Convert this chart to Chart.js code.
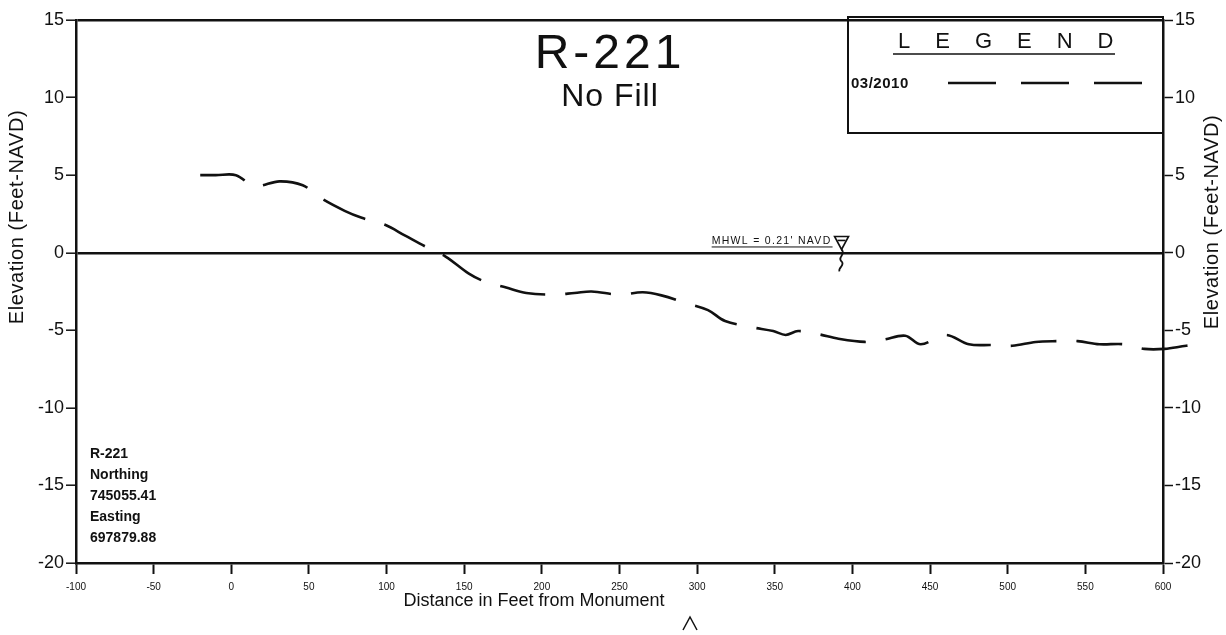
<!DOCTYPE html>
<html>
<head>
<meta charset="utf-8">
<title>R-221 beach profile</title>
<script src="https://cdn.jsdelivr.net/npm/chart.js@4.4.1/dist/chart.umd.min.js"></script>
<style>
  html, body { margin: 0; padding: 0; background: #fff; }
  #wrap { width: 1226px; height: 635px; position: relative; }
</style>
</head>
<body>
<div id="wrap"><canvas id="profileChart"></canvas></div>
<script>
// survey 03/2010, profile R-221 (distance from monument in ft, elevation ft NAVD)
const distance = [-20, -10, 3, 15, 31, 46, 58, 73, 84, 99, 112, 125, 138, 153, 163,
                  177, 190, 206, 221, 232, 250, 265, 277, 293, 307, 318, 335, 349, 357,
                  365, 378, 391, 408, 420, 434, 444, 460, 475, 490, 503, 518, 532, 545,
                  559, 575, 588, 601, 615, 627];
const elevation = [5.0, 5.0, 5.0, 4.3, 4.6, 4.35, 3.5, 2.7, 2.25, 1.8, 1.1, 0.4, -0.25, -1.35, -1.85,
                   -2.25, -2.6, -2.7, -2.6, -2.5, -2.7, -2.55, -2.75, -3.25, -3.7, -4.4, -4.8, -5.05, -5.3,
                   -5.05, -5.25, -5.55, -5.75, -5.6, -5.35, -5.9, -5.3, -5.9, -5.95, -6.0, -5.75, -5.7, -5.7,
                   -5.9, -5.9, -6.2, -6.2, -6.0, -5.9];

const xTicks = [-100, -50, 0, 50, 100, 150, 200, 250, 300, 350, 400, 450, 500, 550, 600];
const yTicks = [-20, -15, -10, -5, 0, 5, 10, 15];

const profileName = 'R-221';
const fillNote = 'No Fill';
const surveyDate = '03/2010';
const monumentInfo = ['R-221', 'Northing', '745055.41', 'Easting', '697879.88'];
const mhwl = 0.21;
const mhwlStation = 393;

const FONT = '"Liberation Sans", Arial, Helvetica, sans-serif';
const INK = '#111';

// notes, legend box and axis captions drawn on top of the plot
const profileNotes = {
  id: 'profileNotes',
  afterDraw(chart) {
    const { ctx } = chart;
    const x = chart.scales.x, y = chart.scales.y;
    ctx.save();
    ctx.fillStyle = INK;
    ctx.strokeStyle = INK;

    // big title
    ctx.textAlign = 'center';
    ctx.textBaseline = 'alphabetic';
    ctx.font = '48px ' + FONT;
    ctx.letterSpacing = '4px';
    ctx.fillText(profileName, 610, 68);
    ctx.font = '32px ' + FONT;
    ctx.letterSpacing = '1px';
    ctx.fillText(fillNote, 610, 106);
    ctx.letterSpacing = '0px';

    // legend box
    ctx.lineWidth = 2;
    ctx.strokeRect(848, 17, 315, 116);
    ctx.textAlign = 'left';
    ctx.font = '22px ' + FONT;
    ctx.letterSpacing = '25px';
    ctx.fillText('LEGEND', 898, 48);
    ctx.letterSpacing = '0px';
    ctx.lineWidth = 1.5;
    ctx.beginPath();
    ctx.moveTo(893, 54); ctx.lineTo(1115, 54);
    ctx.stroke();
    ctx.font = 'bold 15px ' + FONT;
    ctx.letterSpacing = '0.5px';
    ctx.fillText(surveyDate, 851, 88);
    ctx.letterSpacing = '0px';
    const ds = chart.data.datasets[0];
    ctx.lineWidth = ds.borderWidth;
    ctx.setLineDash([48, 25]);
    ctx.beginPath();
    ctx.moveTo(948, 83); ctx.lineTo(1142, 83);
    ctx.stroke();
    ctx.setLineDash([]);

    // MHWL marker
    const mx = x.getPixelForValue(mhwlStation);
    const my = y.getPixelForValue(mhwl);
    ctx.font = '10.5px ' + FONT;
    ctx.letterSpacing = '1.3px';
    ctx.textAlign = 'right';
    const label = "MHWL = 0.21' NAVD";
    const tw = ctx.measureText(label).width;
    ctx.fillText(label, mx - 10, my - 5);
    ctx.letterSpacing = '0px';
    ctx.lineWidth = 1;
    ctx.beginPath();
    ctx.moveTo(mx - 10 - tw, my - 2.5); ctx.lineTo(mx - 9, my - 2.5);
    ctx.stroke();
    ctx.lineWidth = 1.6;
    ctx.beginPath();
    ctx.moveTo(mx - 7, my - 13); ctx.lineTo(mx + 7, my - 13); ctx.lineTo(mx, my); ctx.closePath();
    ctx.stroke();
    ctx.beginPath();
    ctx.moveTo(mx - 4, my - 9); ctx.lineTo(mx + 4, my - 9);
    ctx.stroke();
    ctx.lineWidth = 1.8;
    ctx.beginPath();
    ctx.moveTo(mx, my);
    ctx.bezierCurveTo(mx + 5, my + 5, mx - 5, my + 8, mx, my + 12);
    ctx.bezierCurveTo(mx + 4, my + 16, mx - 4, my + 18, mx - 2, my + 22);
    ctx.stroke();

    // monument block
    ctx.textAlign = 'left';
    ctx.font = 'bold 14px ' + FONT;
    monumentInfo.forEach((t, i) => ctx.fillText(t, 90, 458 + i * 21));

    // axis captions
    ctx.textAlign = 'center';
    ctx.font = '18px ' + FONT;
    ctx.fillText('Distance in Feet from Monument', 534, 606);
    ctx.font = '20px ' + FONT;
    ctx.letterSpacing = '0.6px';
    [[23, 217], [1218, 222]].forEach(([cx, cy]) => {
      ctx.save();
      ctx.translate(cx, cy);
      ctx.rotate(-Math.PI / 2);
      ctx.fillText('Elevation (Feet-NAVD)', 0, 0);
      ctx.restore();
    });
    ctx.letterSpacing = '0px';

    // small caret near the bottom edge
    ctx.lineWidth = 1.5;
    ctx.beginPath();
    ctx.moveTo(683, 630); ctx.lineTo(690, 617); ctx.lineTo(697, 630);
    ctx.stroke();

    ctx.restore();
  }
};

function fixedTicks(values) {
  return scale => { scale.ticks = values.map(v => ({ value: v })); };
}

// 0 ft line and the top frame come from the y grid
function frameLine(c) {
  if (!c.tick) return 'rgba(0,0,0,0)';
  return (c.tick.value === 0 || c.tick.value === 15) ? INK : 'rgba(0,0,0,0)';
}

const ctx = document.getElementById('profileChart').getContext('2d');
const profileChart = new Chart(ctx, {
  type: 'line',
  data: {
    datasets: [{
      label: surveyDate,
      data: distance.map((d, i) => ({ x: d, y: elevation[i] })),
      borderColor: INK,
      borderWidth: 2.6,
      borderDash: [46, 20],
      pointRadius: 0,
      tension: 0.35,
      fill: false,
      clip: false
    }]
  },
  options: {
    responsive: true,
    maintainAspectRatio: false,
    animation: false,
    layout: { padding: { top: 20, left: 0, right: 0, bottom: 0 } },
    plugins: { legend: { display: false }, tooltip: { enabled: false } },
    scales: {
      x: {
        type: 'linear',
        // range set here (not min/max) so the profile tail past 600 ft is still drawn
        afterDataLimits: s => { s.min = -100; s.max = 600; },
        afterBuildTicks: fixedTicks(xTicks),
        afterFit: s => { s.height = 72; },
        grid: { drawOnChartArea: false, drawTicks: true, tickLength: 11, tickColor: INK, tickWidth: 2 },
        border: { display: true, color: INK, width: 2.5 },
        ticks: { color: INK, font: { family: FONT, size: 10 }, padding: 7, maxRotation: 0, autoSkip: false }
      },
      y: {
        position: 'left', min: -20, max: 15,
        afterBuildTicks: fixedTicks(yTicks),
        afterFit: s => { s.width = 76; },
        grid: { color: frameLine, lineWidth: 2.4, drawTicks: true, tickLength: 10, tickColor: INK, tickWidth: 1.5 },
        border: { display: true, color: INK, width: 2.5 },
        ticks: { color: INK, font: { family: FONT, size: 18 }, padding: 2 }
      },
      y2: {
        position: 'right', min: -20, max: 15,
        afterBuildTicks: fixedTicks(yTicks),
        afterFit: s => { s.width = 63; },
        grid: { drawOnChartArea: false, drawTicks: true, tickLength: 10, tickColor: INK, tickWidth: 1.5 },
        border: { display: true, color: INK, width: 2.5 },
        ticks: { color: INK, font: { family: FONT, size: 18 }, padding: 2 }
      }
    }
  },
  plugins: [profileNotes]
});
</script>
</body>
</html>
